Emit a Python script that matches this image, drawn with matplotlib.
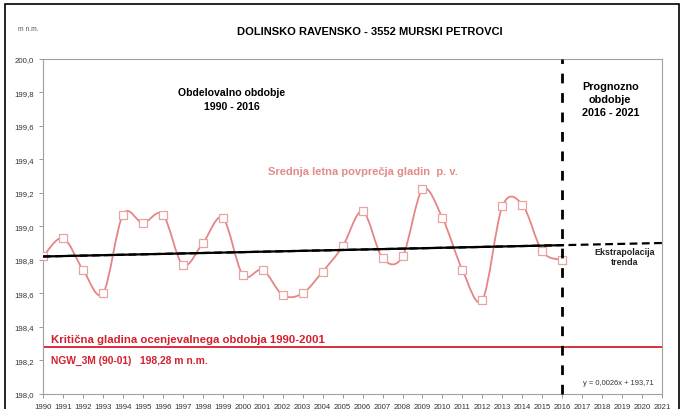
import numpy as np
import matplotlib
matplotlib.use("Agg")
import matplotlib.pyplot as plt
from matplotlib.path import Path
from matplotlib.patches import PathPatch, Rectangle
from matplotlib.ticker import FuncFormatter

plt.rcParams['font.family'] = ['Liberation Sans', 'DejaVu Sans']

# --- DATA ---
YEARS = list(range(1990, 2017))
LEVELS = [198.82, 198.93, 198.74, 198.60, 199.07, 199.02, 199.07, 198.77, 198.90,
          199.05, 198.71, 198.74, 198.59, 198.60, 198.73, 198.88, 199.09, 198.81,
          198.82, 199.22, 199.05, 198.74, 198.56, 199.12, 199.13, 198.85, 198.80]
CRITICAL = 198.28
TREND_SLOPE = 0.0026
TREND_START = 198.82      # vrednost trenda v letu 1990
SPLIT_YEAR = 2016
END_YEAR = 2021

LINE_COL = '#e58585'
RED = '#d4202e'


def smooth_path(x, y):
    # Excel-style glajenje (Bezier, napetost 1/6)
    pts = np.column_stack([x, y])
    verts = [pts[0]]
    codes = [Path.MOVETO]
    n = len(pts)
    for i in range(n - 1):
        p0 = pts[max(i - 1, 0)]
        p1 = pts[i]
        p2 = pts[i + 1]
        p3 = pts[min(i + 2, n - 1)]
        c1 = p1 + (p2 - p0) / 6.0
        c2 = p2 - (p3 - p1) / 6.0
        verts += [c1, c2, p2]
        codes += [Path.CURVE4] * 3
    return Path(verts, codes)


fig = plt.figure(figsize=(6.84, 4.10), dpi=100)
ax = fig.add_axes([0.063, 0.037, 0.905, 0.817])

# okvir slike
fig.patches.append(Rectangle((0.008, -0.01), 0.985, 0.998, transform=fig.transFigure,
                             fill=False, edgecolor='black', linewidth=1.2))

# gladka krivulja + markerji
ax.add_patch(PathPatch(smooth_path(YEARS, LEVELS), facecolor='none',
                       edgecolor=LINE_COL, linewidth=1.3, zorder=3))
ax.plot(YEARS, LEVELS, linestyle='none', marker='s', markersize=5.5,
        markerfacecolor='white', markeredgecolor='#e8a3a3', markeredgewidth=0.9, zorder=4)

# trend
tx = np.array([1990, SPLIT_YEAR])
ty = TREND_START + TREND_SLOPE * (tx - 1990)
ax.plot(tx, ty, color='black', linewidth=1.6, zorder=5)
tx2 = np.array([1990, END_YEAR + 0.2])
ty2 = TREND_START + TREND_SLOPE * (tx2 - 1990)
ax.plot(tx2, ty2, color='black', linewidth=1.6, linestyle=(0, (3.5, 2)), zorder=5, clip_on=False)

# kritična gladina
ax.axhline(CRITICAL, color=RED, linewidth=1.3, zorder=2)

# meja obdobij
ax.plot([SPLIT_YEAR, SPLIT_YEAR], [198.0, 200.0], color='black', linewidth=2,
        linestyle=(0, (3.5, 3.5)), zorder=6, clip_on=False)

ax.set_xlim(1990, END_YEAR)
ax.set_ylim(198.0, 200.0)
ax.set_xticks(range(1990, END_YEAR + 1))
ax.set_yticks(np.arange(198.0, 200.01, 0.2))
ax.yaxis.set_major_formatter(FuncFormatter(lambda v, p: f"{v:.1f}".replace('.', ',')))
ax.tick_params(axis='both', labelsize=5.6, colors='#333333', length=3, width=0.6)
ax.tick_params(axis='both', color='#888888')
for s in ax.spines.values():
    s.set_color('#a0a0a0')
    s.set_linewidth(0.8)

# besedila
fig.text(0.026, 0.925, "m n.m.", fontsize=4.8, color='#555555')
fig.text(0.541, 0.923, "DOLINSKO RAVENSKO - 3552 MURSKI PETROVCI", fontsize=8,
         fontweight='bold', ha='center', va='center')
ax.text(1999.46, 199.76, "Obdelovalno obdobje\n1990 - 2016", fontsize=7.6,
        fontweight='bold', ha='center', va='center', linespacing=1.5)
ax.text(2018.4, 199.76, "Prognozno\nobdobje\n2016 - 2021", fontsize=7.8,
        fontweight='bold', ha='center', va='center', linespacing=1.35)
ax.text(2006.0, 199.33, "Srednja letna povprečja gladin  p. v.", fontsize=8.0,
        fontweight='bold', ha='center', va='center', color='#e58a8a')
ax.text(2019.1, 198.82, "Ekstrapolacija\ntrenda", fontsize=6.4,
        fontweight='bold', ha='center', va='center', linespacing=1.05, color='#222222')
ax.text(2018.8, 198.07, "y = 0,0026x + 193,71", fontsize=5.4, ha='center',
        va='center', color='#333333')
ax.text(1990.4, 198.33, "Kritična gladina ocenjevalnega obdobja 1990-2001",
        fontsize=8.2, fontweight='bold', color=RED, ha='left', va='center')
ax.text(1990.4, 198.20, "NGW_3M (90-01)   198,28 m n.m.",
        fontsize=7.4, fontweight='bold', color=RED, ha='left', va='center')

fig.savefig("out.png", dpi=100)
